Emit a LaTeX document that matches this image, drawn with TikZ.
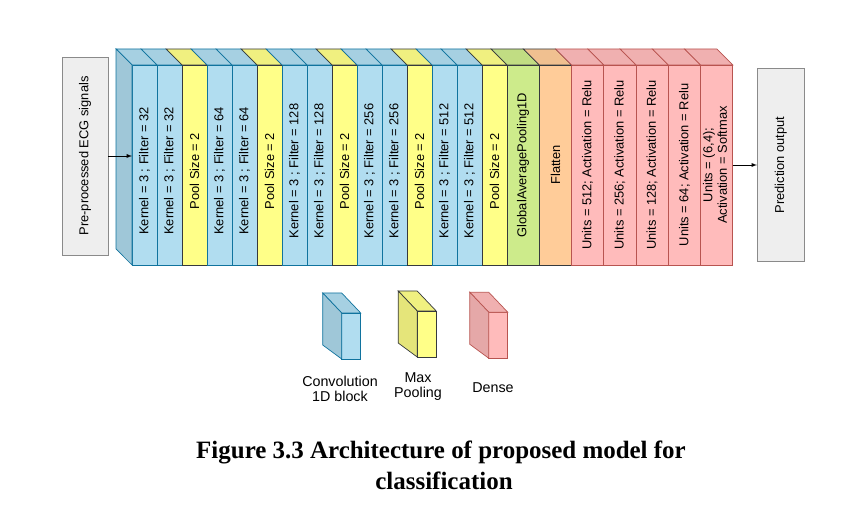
\documentclass[tikz,border=0pt]{standalone}
\usepackage{fontspec}
\setmainfont{Liberation Sans}
\newfontfamily\capfont{Liberation Serif}
\usepackage{graphicx}
\usetikzlibrary{positioning}

\definecolor{convfill}{HTML}{B1DDF0}
\definecolor{convline}{HTML}{10739E}
\definecolor{poolfill}{HTML}{FFFF88}
\definecolor{gapfill}{HTML}{CDEB8B}
\definecolor{flatfill}{HTML}{FFCC99}
\definecolor{densefill}{HTML}{FFBBBB}
\definecolor{denseline}{HTML}{B85450}
\definecolor{darkline}{HTML}{36393D}
\definecolor{boxfill}{HTML}{EEEEEE}
\definecolor{boxline}{HTML}{8A8A8A}

\newcommand{\uptext}[1]{\rotatebox{90}{#1}}
% conv and pool labels sit a bit lower
\newcommand{\lowtext}[1]{\rotatebox{90}{#1\hspace{0.36cm}}}

\tikzset{
  layer/.style={draw, rectangle, minimum height=6cm, inner sep=1pt, outer sep=0pt, line width=0.6pt, font=\fontsize{11}{12.5}\selectfont},
  conv/.style={layer, fill=convfill, draw=convline, minimum width=0.75cm},
  pool/.style={layer, fill=poolfill, draw=darkline, minimum width=0.75cm},
  gap/.style={layer, fill=gapfill, draw=darkline, minimum width=0.9675cm},
  flat/.style={layer, fill=flatfill, draw=darkline, minimum width=0.9675cm},
  dense/.style={layer, fill=densefill, draw=denseline, minimum width=0.9675cm},
  iobox/.style={draw=boxline, fill=boxfill, line width=0.6pt, inner sep=1pt, font=\fontsize{11}{12.5}\selectfont},
  legcube/.style={draw, line width=0.6pt, minimum width=0.57cm, minimum height=1.38cm, inner sep=0pt, outer sep=0pt},
  leglabel/.style={font=\fontsize{12.2}{13.2}\selectfont, align=center}
}

\begin{document}
\begin{tikzpicture}[x=0.03cm, y=-0.03cm]
  \useasboundingbox (0,0) rectangle (867,515);

  % input and the layer stack
  \node[iobox, minimum width=1.38cm, minimum height=5.94cm] (in) at (85,156) {\uptext{Pre-processed ECG signals}};
  \node[conv] (c1) at (144.5,165) {\lowtext{Kernel = 3 ; Filter = 32}};
  \node[conv, right=0pt of c1] (c2) {\lowtext{Kernel = 3 ; Filter = 32}};
  \node[pool, right=0pt of c2] (p1) {\lowtext{Pool Size = 2}};
  \node[conv, right=0pt of p1] (c3) {\lowtext{Kernel = 3 ; Filter = 64}};
  \node[conv, right=0pt of c3] (c4) {\lowtext{Kernel = 3 ; Filter = 64}};
  \node[pool, right=0pt of c4] (p2) {\lowtext{Pool Size = 2}};
  \node[conv, right=0pt of p2] (c5) {\lowtext{Kernel = 3 ; Filter = 128}};
  \node[conv, right=0pt of c5] (c6) {\lowtext{Kernel = 3 ; Filter = 128}};
  \node[pool, right=0pt of c6] (p3) {\lowtext{Pool Size = 2}};
  \node[conv, right=0pt of p3] (c7) {\lowtext{Kernel = 3 ; Filter = 256}};
  \node[conv, right=0pt of c7] (c8) {\lowtext{Kernel = 3 ; Filter = 256}};
  \node[pool, right=0pt of c8] (p4) {\lowtext{Pool Size = 2}};
  \node[conv, right=0pt of p4] (c9) {\lowtext{Kernel = 3 ; Filter = 512}};
  \node[conv, right=0pt of c9] (c10) {\lowtext{Kernel = 3 ; Filter = 512}};
  \node[pool, right=0pt of c10] (p5) {\lowtext{Pool Size = 2}};
  \node[gap, right=0pt of p5] (gap) {\uptext{GlobalAveragePooling1D}};
  \node[flat, right=0pt of gap] (flat) {\uptext{Flatten}};
  \node[dense, right=0pt of flat] (d1) {\uptext{Units = 512; Activation = Relu}};
  \node[dense, right=0pt of d1] (d2) {\uptext{Units = 256; Activation = Relu}};
  \node[dense, right=0pt of d2] (d3) {\uptext{Units = 128; Activation = Relu}};
  \node[dense, right=0pt of d3] (d4) {\uptext{Units = 64; Activation = Relu}};
  \node[dense, right=0pt of d4] (d5) {\uptext{\begin{tabular}{@{}c@{}}Units = (6,4);\\Activation = Softmax\end{tabular}}};
  \node[iobox, minimum width=1.41cm, minimum height=5.8cm] (out) at (780.8,165) {\uptext{Prediction output}};

  % top faces and side face
  \foreach \n/\c/\d in {c1/convfill/convline, c2/convfill/convline, p1/poolfill/darkline,
      c3/convfill/convline, c4/convfill/convline, p2/poolfill/darkline,
      c5/convfill/convline, c6/convfill/convline, p3/poolfill/darkline,
      c7/convfill/convline, c8/convfill/convline, p4/poolfill/darkline,
      c9/convfill/convline, c10/convfill/convline, p5/poolfill/darkline,
      gap/gapfill/darkline, flat/flatfill/darkline,
      d1/densefill/denseline, d2/densefill/denseline, d3/densefill/denseline,
      d4/densefill/denseline, d5/densefill/denseline}
    \filldraw[fill=\c!94!black, draw=\d, line width=0.6pt] (\n.north west) -- ++(-16,-16)
      -- ([shift={(-16,-16)}]\n.north east) -- (\n.north east) -- cycle;
  \filldraw[fill=convfill!90!black, draw=convline, line width=0.6pt] (c1.north west) -- ++(-16,-16)
    -- ++(0,200) -- (c1.south west) -- cycle;

  \draw[-latex, line width=0.6pt] (in.east) -- (in.east -| c1.west);
  \draw[-latex, line width=0.6pt] (d5) -- (out);

  % legend
  \node[legcube, fill=convfill, draw=convline] (lconv) at (351.2,336) {};
  \node[legcube, fill=poolfill, draw=darkline] (lpool) at (426.7,334) {};
  \node[legcube, fill=densefill, draw=denseline] (ldense) at (498.3,335.3) {};
  \foreach \n/\c/\d in {lconv/convfill/convline, lpool/poolfill/darkline, ldense/densefill/denseline} {
    \filldraw[fill=\c!94!black, draw=\d, line width=0.6pt] (\n.north west) -- ++(-19,-20)
      -- ++(19,0) -- (\n.north east) -- cycle;
    \filldraw[fill=\c!90!black, draw=\d, line width=0.6pt] (\n.north west) -- ++(-19,-20)
      -- ++(0,52) -- (\n.south west) -- cycle;
  }
  \node[leglabel] (tconv) at (340,389) {Convolution\\1D block};
  \node[leglabel] (tpool) at (418,386.5) {Max\\Pooling};
  \node[leglabel] (tdense) at (493,388) {Dense};

  % caption
  \node[anchor=base, font=\capfont\fontsize{21.3}{25}\selectfont\bfseries] (cap1) at (441,458) {Figure 3.3 Architecture of proposed model for};
  \node[anchor=base, font=\capfont\fontsize{21.3}{25}\selectfont\bfseries] (cap2) at (444,489) {classification};
\end{tikzpicture}
\end{document}
